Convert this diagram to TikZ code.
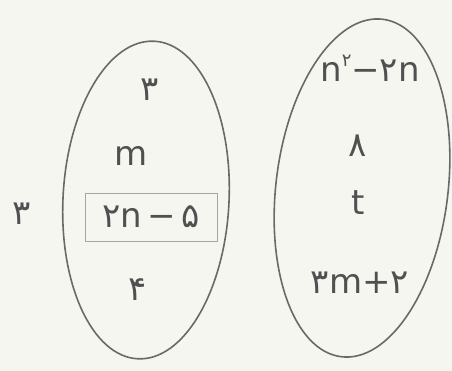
\documentclass[tikz,border=0pt]{standalone}
\usepackage{fontspec}
\newfontfamily\pf{DejaVu Sans}
\definecolor{pencil}{RGB}{105,105,105}
\definecolor{ink}{RGB}{80,80,80}
\definecolor{paper}{RGB}{246,246,240}
\begin{document}
\begin{tikzpicture}[x=1pt,y=-1pt,
  setline/.style={draw=pencil,line width=1.6pt},
  elem/.style={text=ink,font=\pf\fontsize{34}{36}\selectfont,inner sep=2pt},
  boxed/.style={elem,draw=pencil!60,line width=0.8pt,minimum width=132pt,minimum height=48pt}]
\fill[paper] (0,0) rectangle (452,371);
\useasboundingbox (0,0) rectangle (452,371);
% left set
\draw[setline,rotate around={-3:(146,200)}] (146,200) ellipse [x radius=83, y radius=159];
% right set
\draw[setline,rotate around={-7:(362,188)}] (362,188) ellipse [x radius=86, y radius=170];
% outside label
\node[elem] (out) at (22,214) {۳};
% left elements
\node[elem] (l1) at (150,90) {۳};
\node[elem] (l2) at (131,156) {m};
\node[boxed] (l3) at (151,217) {۲n\,−\,۵};
\node[elem] (l4) at (138,290) {۴};
% right elements
\node[elem] (r1) at (370,68) {n\raisebox{0.45em}{\fontsize{18}{20}\selectfont ۲}−۲n};
\node[elem] (r2) at (358,146) {۸};
\node[elem] (r3) at (358,203) {t};
\node[elem] (r4) at (360,283) {۳m+۲};
\end{tikzpicture}
\end{document}
